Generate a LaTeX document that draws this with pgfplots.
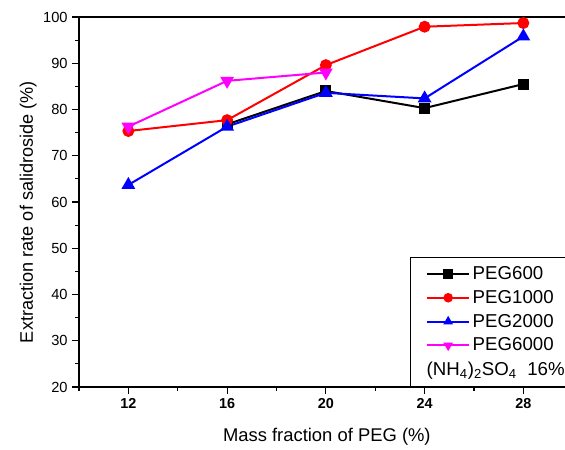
\documentclass[border=0pt]{standalone}
\usepackage{fontspec}
\setmainfont{Liberation Sans}
\usepackage{pgfplots}
\pgfplotsset{compat=1.18}
\definecolor{pegmag}{RGB}{255,0,255}
\definecolor{pegred}{RGB}{255,0,0}
\definecolor{pegblue}{RGB}{0,0,255}

\begin{document}
\begin{tikzpicture}
\useasboundingbox (-59.25pt,-47.25pt) rectangle (364.5pt,290.25pt);
\begin{axis}[
  name=ax, at={(0,0)}, anchor=south west,
  scale only axis, width=370.3pt, height=277.5pt,
  xmin=10, xmax=30, ymin=20, ymax=100,
  axis x line=box, axis y line=left,
  axis line style={-, line width=0.9pt},
  xtick={12,16,20,24,28}, minor xtick={10,14,18,22,26,30},
  ytick={20,30,...,100}, minor ytick={25,35,...,95},
  xtick pos=bottom, ytick pos=left,
  tick align=outside,
  major tick length=5pt, minor tick length=3pt,
  tick style={line width=0.9pt, black},
  /pgf/number format/assume math mode=true,
  xticklabel style={font=\fontsize{10.8}{12}\selectfont\bfseries},
  yticklabel style={font=\fontsize{11}{12}\selectfont},
  xlabel={Mass fraction of PEG (\%)},
  ylabel={Extraction rate of salidroside (\%)},
  xlabel style={font=\fontsize{13.8}{15}\selectfont, at={(axis description cs:0.502,0)}, anchor=center, yshift=-37.5pt},
  ylabel style={font=\fontsize{13.6}{15}\selectfont, at={(axis description cs:-0.103,0.473)}, anchor=center},
  legend style={at={(1,0)}, anchor=south east, draw=black, line width=0.6pt, fill=white,
    font=\fontsize{14}{16}\selectfont, row sep=2.6pt, inner xsep=12pt, inner ysep=5pt},
  legend cell align=left,
  legend image code/.code={\draw[mark repeat=2,mark phase=2,mark size=2.8pt] plot coordinates {(0cm,0cm)(0.55cm,0cm)(1.1cm,0cm)};},
  every axis plot/.append style={line width=1.5pt, mark options={solid}},
]
\addplot[black, mark=square*, mark size=3.4pt] coordinates {(16,76.8)(20,84.0)(24,80.3)(28,85.5)};
\addlegendentry{PEG600}
\addplot[pegred, mark=*, mark size=3.7pt] coordinates {(12,75.35)(16,77.7)(20,89.6)(24,97.9)(28,98.7)};
\addlegendentry{PEG1000}
\addplot[pegblue, mark=triangle*, mark size=4.5pt] coordinates {(12,63.7)(16,76.3)(20,83.6)(24,82.4)(28,95.8)};
\addlegendentry{PEG2000}
\addplot[pegmag, mark=triangle*, mark size=4.5pt, mark options={rotate=180}] coordinates {(12,76.3)(16,86.2)(20,88.0)};
\addlegendentry{PEG6000}
\addlegendimage{empty legend}
\addlegendentry{\hspace*{-34.5pt}(NH\textsubscript{4})\textsubscript{2}SO\textsubscript{4}\ \ 16\%\hspace*{-8.5pt}}
\end{axis}
\end{tikzpicture}
\end{document}
